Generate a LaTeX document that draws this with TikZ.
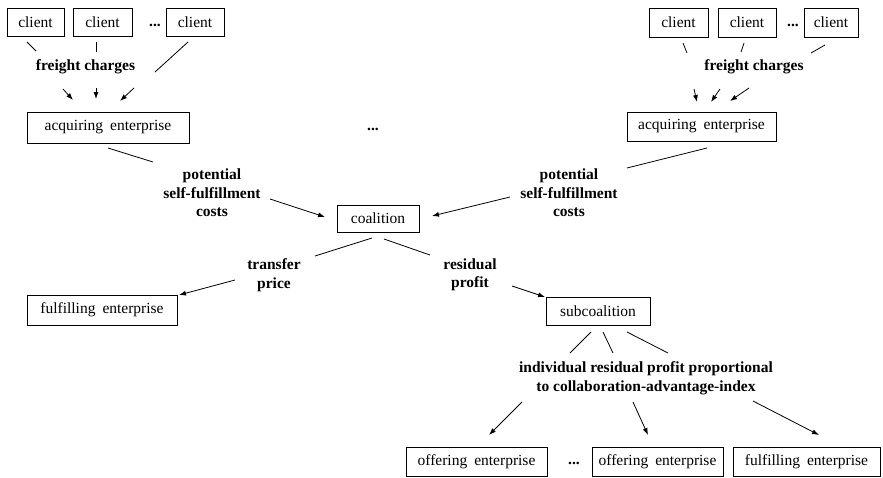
\documentclass[tikz,border=0pt]{standalone}
\usepackage{fontspec}
\setmainfont{Liberation Serif}
\usetikzlibrary{arrows.meta}

\begin{document}
\begin{tikzpicture}[x=1pt, y=-1pt,
    box/.style={rectangle, draw, line width=0.8pt, inner sep=0pt, minimum height=28pt, font={\fontsize{15.5}{18}\selectfont\spaceskip=7pt plus 1pt minus 1pt\relax}},
    lbl/.style={align=center, inner sep=0pt, font=\fontsize{15.5}{18.5}\selectfont\bfseries},
    link/.style={line width=0.8pt},
    feed/.style={line width=0.8pt, -{Latex[length=7pt,width=5pt]}}]
  \useasboundingbox (0,0) rectangle (883,477);

  % left group
  \node[box, minimum width=57pt] (cla1) at (35.5,22) {client};
  \node[box, minimum width=59pt] (cla2) at (102.5,22) {client};
  \node[lbl] (dota) at (155,25) {...};
  \node[box, minimum width=58pt] (cla3) at (195,22) {client};
  \node[lbl] (fca) at (85.5,67) {freight charges};
  \node[box, minimum width=162pt, minimum height=31pt] (acqa) at (108,127.5) {acquiring enterprise};

  % right group
  \node[box, minimum width=59pt, minimum height=29pt] (clb1) at (678.5,22.5) {client};
  \node[box, minimum width=58pt, minimum height=29pt] (clb2) at (747,22.5) {client};
  \node[lbl] (dotb) at (793,25) {...};
  \node[box, minimum width=54pt, minimum height=29pt] (clb3) at (831,22.5) {client};
  \node[lbl] (fcb) at (754,67) {freight charges};
  \node[box, minimum width=149pt, minimum height=29pt] (acqb) at (701.5,126.5) {acquiring enterprise};

  \node[lbl] (dotm) at (373,129) {...};

  % coalition
  \node[lbl] (pota) at (212,193) {potential\\self-fulfillment\\costs};
  \node[lbl] (potb) at (569,193) {potential\\self-fulfillment\\costs};
  \node[box, minimum width=82pt, minimum height=27pt] (coal) at (378,218.5) {coalition};
  \node[lbl] (trans) at (274,275) {transfer\\price};
  \node[lbl] (resid) at (470,275) {residual\\profit};
  \node[box, minimum width=150pt, minimum height=30pt] (fula) at (102,310) {fulfilling enterprise};
  \node[box, minimum width=104pt] (subc) at (598,311) {subcoalition};

  % subcoalition
  \node[lbl] (indiv) at (646,378) {individual residual profit proportional\\to collaboration-advantage-index};
  \node[box, minimum width=141pt, minimum height=29pt] (offa) at (476.5,461.5) {offering enterprise};
  \node[lbl] (dotc) at (574,463) {...};
  \node[box, minimum width=131pt, minimum height=29pt] (offb) at (657.5,461.5) {offering enterprise};
  \node[box, minimum width=147pt, minimum height=29pt] (fulb) at (806.5,461.5) {fulfilling enterprise};

  % loose ends of the connectors
  \foreach \n/\x/\y in {
      s1/27/42,   t1/36/51,   s2/96/42,   t2/96/52,   s3/188/42,  t3/155/72,
      s4/63/89,   t4/73/100,  s5/96/88,   t5/96/99,   s6/134/88,  t6/120/101,
      s7/683/43,  t7/687/53,  s8/744/43,  t8/741/52,  s9/825/45,  t9/811/53,
      s10/694/89, t10/697/102, s11/720/89, t11/711/102, s12/749/88, t12/730/101,
      s13/108/148, t13/153/162, s14/270/199, t14/325/217,
      s15/707/148, t15/627/168, s16/510/197, t16/432/216,
      s17/372/238, t17/315/256, s18/384/239, t18/430/255,
      s19/235/280, t19/179/295, s20/512/286, t20/545/297,
      s21/591/332, t21/570/353, s22/603/332, t22/613/353, s23/627/332, t23/668/353,
      s24/522/402, t24/489/435, s25/633/402, t25/648/435, s26/753/401, t26/819/435}
    \coordinate (\n) at (\x,\y);

  \foreach \i in {1,2,3,7,8,9,13,15,17,18,21,22,23}
    \draw[link] (s\i) -- (t\i);
  \foreach \i in {4,5,6,10,11,12,14,16,19,20,24,25,26}
    \draw[feed] (s\i) -- (t\i);
\end{tikzpicture}
\end{document}
